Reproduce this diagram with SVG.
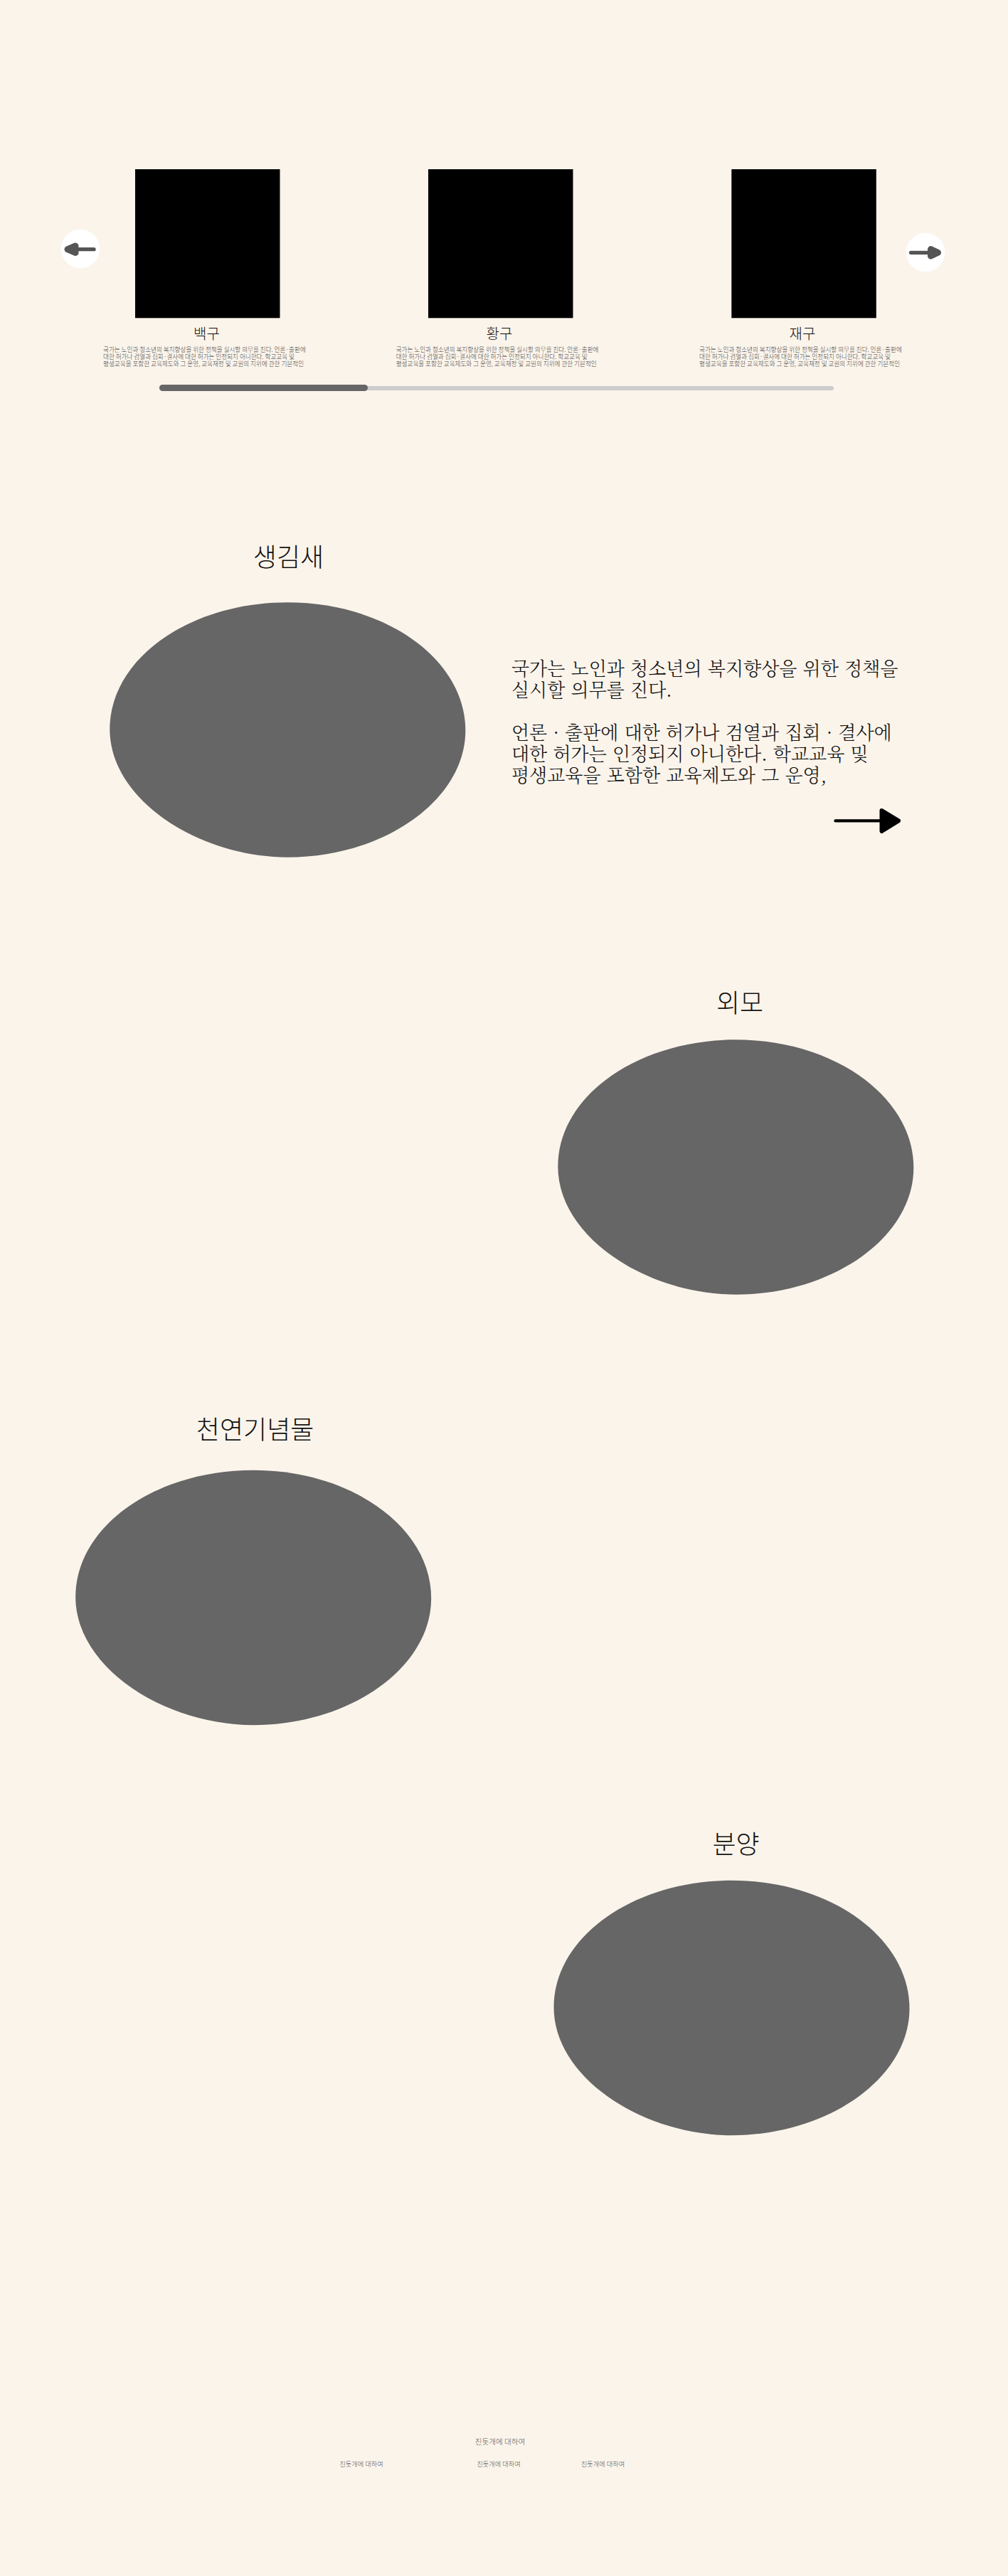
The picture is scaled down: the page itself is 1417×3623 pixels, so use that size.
<svg xmlns="http://www.w3.org/2000/svg" width="1417" height="3623" viewBox="0 0 1417 3623">
<defs>
<path id="blob" d="M0 -179.200C138 -179.200 250 -99 250 1C250 98 136 179.200 0 179.200C-124 179.200 -250 99 -250 -1C-250 -100 -138 -179.200 0 -179.200Z"/>
</defs>
<style>
.h{font-family:"Noto Sans CJK KR","Noto Sans",sans-serif;font-weight:200;fill:#111;text-anchor:middle}
.t1{font-size:36px}
.t2{font-size:20px}
.d{font-family:"Noto Sans CJK KR","Noto Sans",sans-serif;font-weight:300;font-size:8.600px;fill:#444}
.f{font-family:"Noto Sans CJK KR","Noto Sans",sans-serif;font-weight:300;fill:#555;text-anchor:middle}
.b{font-family:"Noto Serif CJK KR","Noto Sans CJK KR",serif;font-weight:300;font-size:26px;word-spacing:1.500px;fill:#111}
.e{fill:#666}
.img{fill:#000}
.pa{fill:#555;stroke:#555;stroke-width:9;stroke-linejoin:round}
.ps{stroke:#555;stroke-width:5.300;stroke-linecap:round;fill:none}
</style>
<rect width="1417" height="3623" fill="#fbf4eb"/>
<g id="card1"><rect class="img" x="190" y="238" width="203.500" height="209.300"/><text class="h t2" x="290.500" y="477">백구</text>
<text class="d"><tspan x="145" y="495">국가는 노인과 청소년의 복지향상을 위한 정책을 실시할 의무를 진다. 언론·출판에</tspan><tspan x="145" y="505">대한 허가나 검열과 집회·결사에 대한 허가는 인정되지 아니한다. 학교교육 및</tspan><tspan x="145" y="515">평생교육을 포함한 교육제도와 그 운영, 교육재정 및 교원의 지위에 관한 기본적인</tspan></text></g>
<g id="card2"><rect class="img" x="602" y="238" width="203.500" height="209.300"/><text class="h t2" x="702" y="477">황구</text>
<text class="d"><tspan x="556.700" y="495">국가는 노인과 청소년의 복지향상을 위한 정책을 실시할 의무를 진다. 언론·출판에</tspan><tspan x="556.700" y="505">대한 허가나 검열과 집회·결사에 대한 허가는 인정되지 아니한다. 학교교육 및</tspan><tspan x="556.700" y="515">평생교육을 포함한 교육제도와 그 운영, 교육재정 및 교원의 지위에 관한 기본적인</tspan></text></g>
<g id="card3"><rect class="img" x="1028.300" y="238" width="203.500" height="209.300"/><text class="h t2" x="1128" y="477">재구</text>
<text class="d"><tspan x="983" y="495">국가는 노인과 청소년의 복지향상을 위한 정책을 실시할 의무를 진다. 언론·출판에</tspan><tspan x="983" y="505">대한 허가나 검열과 집회·결사에 대한 허가는 인정되지 아니한다. 학교교육 및</tspan><tspan x="983" y="515">평생교육을 포함한 교육제도와 그 운영, 교육재정 및 교원의 지위에 관한 기본적인</tspan></text></g>
<g id="prev"><circle cx="113" cy="350" r="27.300" fill="#fff"/><path class="ps" d="M132 350.700H108"/><path class="pa" d="M106 346L95 350.700L106 355.400Z"/></g>
<g id="next"><circle cx="1301" cy="355" r="27.300" fill="#fff"/><path class="ps" d="M1280.500 355.300H1306"/><path class="pa" d="M1308.500 350.600L1318.500 355.300L1308.500 360Z"/></g>
<g id="scrollbar"><rect x="224" y="543" width="948" height="6" rx="3" fill="#ccc"/><rect x="224" y="541" width="293" height="9" rx="4.500" fill="#666"/></g>
<g id="sec1"><text class="h t1" x="405.500" y="797">생김새</text><use class="e" href="#blob" x="404.300" y="1026.500"/></g>
<g id="copy"><text class="b"><tspan x="719" y="950">국가는 노인과 청소년의 복지향상을 위한 정책을</tspan><tspan x="719" y="980">실시할 의무를 진다.</tspan><tspan x="719" y="1040">언론 · 출판에 대한 허가나 검열과 집회 · 결사에</tspan><tspan x="719" y="1070">대한 허가는 인정되지 아니한다. 학교교육 및</tspan><tspan x="719" y="1100">평생교육을 포함한 교육제도와 그 운영,</tspan></text></g>
<g id="connectors"><path d="M1174.500 1154.400H1240" stroke="#000" stroke-width="4.300" stroke-linecap="round" fill="none"/><path d="M1239.500 1140L1263 1154.400L1239.500 1169Z" fill="#000" stroke="#000" stroke-width="6" stroke-linejoin="round"/></g>
<g id="sec2"><text class="h t1" x="1040" y="1424">외모</text><use class="e" href="#blob" x="1034.300" y="1641.500"/></g>
<g id="sec3"><text class="h t1" x="358.600" y="2024">천연기념물</text><use class="e" href="#blob" x="356.200" y="2247"/></g>
<g id="sec4"><text class="h t1" x="1034.600" y="2607">분양</text><use class="e" href="#blob" x="1028.500" y="2824"/></g>
<g id="footer"><text class="f" font-size="10.600" x="703" y="3438">진돗개에 대하여</text><text class="f" font-size="9.200" x="508" y="3469">진돗개에 대하여</text><text class="f" font-size="9.200" x="701" y="3469">진돗개에 대하여</text><text class="f" font-size="9.200" x="847.500" y="3469">진돗개에 대하여</text></g>
</svg>
